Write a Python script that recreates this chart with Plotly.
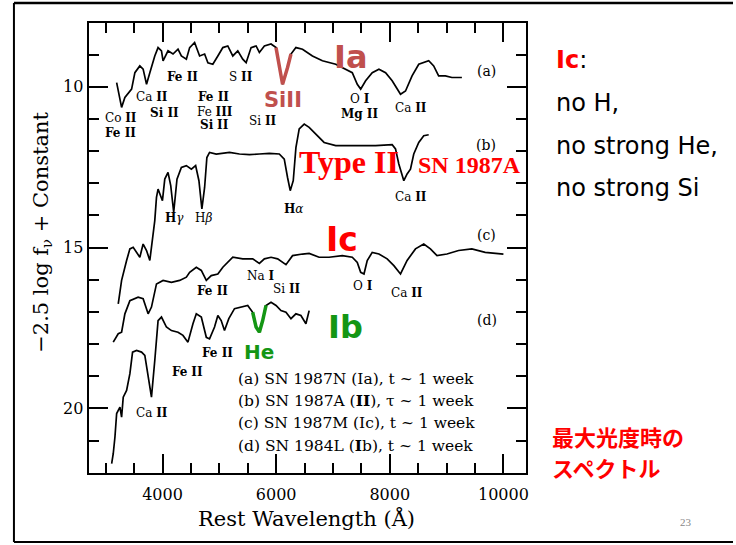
import plotly.graph_objects as go

# ---- spectra (rest wavelength in Angstrom, -2.5 log f_nu + const) ----
wl_a = [3193,3280,3338,3456,3514,3601,3659,3719,3777,3864,3922,3982,4010,4097,4185,4273,4332,4420,4478,4565,
        4653,4741,4799,4886,4974,5062,5149,5237,5325,5412,5472,5559,5647,5705,5793,5910,5998,6055,6113,6201,
        6261,6348,6464,6639,6814,7049,7225,7340,7428,7488,7575,7691,7809,7926,8042,8189,8277,8392,8510,8685,
        8773,8860,8978,9093,9269]
mag_a = [9.87,10.64,10.33,10.07,9.56,9.35,9.45,9.92,9.56,9.04,8.78,8.88,9.19,8.88,8.98,8.83,9.04,9.14,8.78,8.62,
         9.04,8.98,9.25,9.30,9.04,8.78,8.73,9.04,8.88,9.14,9.25,8.78,8.73,8.93,8.73,8.67,8.78,9.40,9.92,9.40,
         8.98,8.78,8.83,9.04,9.19,9.30,9.45,9.56,9.92,10.07,9.81,9.56,9.45,9.56,9.81,10.23,10.13,9.66,9.30,9.19,
         9.35,9.66,9.66,9.71,9.71]

wl_b = [3221,3280,3368,3426,3484,3543,3601,3659,3719,3777,3806,3864,3894,3922,3964,3999,4040,4097,4145,4197,
        4255,4332,4420,4508,4583,4641,4693,4741,4781,4828,4946,5062,5179,5354,5530,5705,5880,6055,6143,6201,
        6248,6301,6348,6406,6494,6581,6699,6844,7049,7400,7751,8042,8101,8159,8247,8305,8364,8422,8510,8598,8685]
mag_b = [16.75,16.02,15.40,15.04,14.99,15.15,15.30,14.89,15.09,15.40,14.99,14.16,13.44,13.18,13.38,13.54,12.87,12.66,13.07,13.90,
         12.87,12.51,12.45,12.56,12.45,12.92,13.80,13.13,12.20,12.04,12.09,12.07,12.04,12.09,12.11,12.09,12.07,12.09,12.25,12.82,
         13.23,12.92,11.89,11.31,11.16,11.26,11.47,11.73,11.83,11.83,11.83,11.80,11.93,12.40,12.92,12.71,12.56,12.09,11.73,11.52,11.49]

wl_c = [3133,3221,3280,3338,3426,3571,3659,3747,3806,3894,4010,4157,4302,4420,4478,4595,4683,4771,4858,4974,
        5062,5149,5237,5412,5587,5705,5793,5910,6026,6173,6289,6464,6581,6756,6932,7165,7340,7428,7488,7546,
        7603,7691,7809,7954,8072,8189,8305,8452,8598,8715,8831,9006,9211,9444,9679,10000]
mag_c = [17.94,17.68,17.63,17.06,16.65,16.54,16.59,17.06,16.85,16.13,16.02,16.08,16.02,15.92,15.77,15.61,15.71,16.02,15.87,15.82,
         15.61,15.46,15.30,15.35,15.35,15.49,15.35,15.30,15.35,15.53,15.25,15.20,15.18,15.30,15.30,15.25,15.30,15.46,15.77,15.82,
         15.40,15.15,15.20,15.35,15.56,15.82,15.40,15.04,14.89,15.04,15.25,15.20,15.09,15.04,15.15,15.20]

wl_d = [3105,3133,3163,3193,3251,3280,3309,3368,3426,3473,3543,3631,3689,3729,3806,3864,3922,3982,4069,4157,
        4273,4360,4448,4536,4595,4683,4771,4828,4916,4974,5033,5091,5167,5267,5384,5500,5587,5647,5705,5763,
        5822,5910,5998,6085,6173,6261,6348,6436,6524,6581]
mag_d = [21.72,21.41,20.89,20.16,19.96,20.27,19.65,19.44,18.92,18.25,18.20,18.25,18.35,18.82,19.65,18.51,17.27,17.16,17.47,17.58,
         17.63,17.73,17.94,17.37,17.06,17.16,17.79,17.84,17.47,17.11,17.27,17.58,17.21,16.90,16.85,16.80,17.01,17.47,17.63,17.27,
         16.80,16.70,16.80,16.96,17.01,17.21,17.06,17.11,17.37,16.96]

# highlighted absorption features (wavelength windows)
siII_window = [5990, 6270]
he_window = [5560, 5840]

# line identifications: (text, wavelength, magnitude)
ion_labels = [
    ("Co <b>II</b>", 3268, 10.97), ("<b>Fe II</b>", 3268, 11.44), ("Ca <b>II</b>", 3812, 10.32),
    ("<b>Si II</b>", 4040, 10.81), ("<b>Fe II</b>", 4355, 9.69), ("<b>Fe II</b>", 4898, 10.32),
    ("Fe <b>III</b>", 4916, 10.78), ("<b>Si</b> <b>II</b>", 4916, 11.19), ("S <b>II</b>", 5389, 9.69),
    ("Si <b>II</b>", 5757, 11.07), ("O <b>I</b>", 7475, 10.38), ("<b>Mg II</b>", 7475, 10.85),
    ("Ca <b>II</b>", 8371, 10.66),
    ("<b>H</b><i>γ</i>", 4215, 14.08), ("H<i>β</i>", 4723, 14.08), ("<b>H</b><i>α</i>", 6299, 13.80),
    ("Ca <b>II</b>", 8371, 13.43),
    ("Na <b>I</b>", 5722, 15.88), ("<b>Fe II</b>", 4881, 16.35), ("Si <b>II</b>", 6178, 16.29),
    ("O <b>I</b>", 7528, 16.19), ("Ca <b>II</b>", 8300, 16.41),
    ("<b>Fe II</b>", 4969, 18.28), ("<b>Fe</b> <b>II</b>", 4443, 18.87), ("Ca <b>II</b>", 3812, 20.14),
]
panel_labels = [("(a)", 9703, 9.51), ("(b)", 9686, 11.81), ("(c)", 9703, 14.61), ("(d)", 9703, 17.25)]
legend_lines = [
    "(a) SN 1987N (Ia), t ~ 1 week",
    "(b) SN 1987A (<b>II</b>), τ ~ 1 week",
    "(c) SN 1987M (Ic), t ~ 1 week",
    "(d) SN 1984L (<b>I</b>b), t ~ 1 week",
]
legend_mags = [19.09, 19.77, 20.45, 21.14]

W, H = 736, 545
SERIF = "DejaVu Serif"
SIRED = "#c0504d"
GREEN = "#149614"

fig = go.Figure()
for wl, mg in [(wl_a, mag_a), (wl_b, mag_b), (wl_c, mag_c), (wl_d, mag_d)]:
    fig.add_trace(go.Scatter(x=wl, y=mg, mode="lines", line=dict(color="black", width=1.7),
                             hoverinfo="skip", showlegend=False))

def window(wl, mg, lo, hi):
    pts = [(w, m) for w, m in zip(wl, mg) if lo <= w <= hi]
    return [p[0] for p in pts], [p[1] for p in pts]

sx, sy = window(wl_a, mag_a, *siII_window)
fig.add_trace(go.Scatter(x=sx, y=sy, mode="lines", line=dict(color=SIRED, width=3.5),
                         hoverinfo="skip", showlegend=False))
hx, hy = window(wl_d, mag_d, *he_window)
fig.add_trace(go.Scatter(x=hx, y=hy, mode="lines", line=dict(color=GREEN, width=3.5),
                         hoverinfo="skip", showlegend=False))

def A(text, x, y, size, color="black", family=SERIF, ref="data", xanchor="center", **kw):
    d = dict(text=text, x=x, y=y, showarrow=False, xanchor=xanchor, yanchor="middle",
             font=dict(family=family, size=size, color=color))
    if ref == "data":
        d.update(xref="x", yref="y")
    else:
        d.update(xref="paper", yref="paper")
    d.update(kw)
    return d

ann = []
for t, x, y in ion_labels:
    ann.append(A(t, x, y, 12))
for t, x, y in panel_labels:
    ann.append(A(t, x, y, 14))
for t, y in zip(legend_lines, legend_mags):
    ann.append(A(t, 5300, y, 15.5, xanchor="left"))

# coloured type labels
ann += [
    A("<b>Ia</b>", 7318, 9.06, 32, SIRED, "DejaVu Sans"),
    A("<b>SiII</b>", 6126, 10.40, 21, SIRED, "DejaVu Sans"),
    A("<b>Type II</b>", 7283, 12.34, 32, "#ff0000", "Liberation Serif"),
    A("<b>SN 1987A</b>", 9404, 12.43, 24, "#ff0000", "Liberation Serif"),
    A("<b>Ic</b>", 7160, 14.76, 33, "#ff0000", "DejaVu Sans"),
    A("<b>Ib</b>", 7213, 17.47, 32, GREEN, "DejaVu Sans"),
    A("<b>He</b>", 5705, 18.25, 20, GREEN, "DejaVu Sans"),
]

# axis titles and slide text (paper coordinates)
def px(x): return x / W
def py(y): return 1 - y / H

ann += [
    A("−2.5 log f<sub>ν</sub> + Constant", px(42), py(232), 21, ref="paper", textangle=-90),
    A("Rest Wavelength (Å)", px(308), py(518), 21, ref="paper"),
    A("<span style='color:#ff0000'><b>Ic</b></span>:", px(556), py(60), 24, family="DejaVu Sans",
      ref="paper", xanchor="left"),
    A("no H,", px(556), py(103), 24, family="DejaVu Sans", ref="paper", xanchor="left"),
    A("no strong He,", px(556), py(146), 24, family="DejaVu Sans", ref="paper", xanchor="left"),
    A("no strong Si", px(556), py(188), 24, family="DejaVu Sans", ref="paper", xanchor="left"),
    A("<b>最大光度時の</b>", px(553), py(436), 22, "#ff0000", "Noto Sans CJK JP",
      ref="paper", xanchor="left", borderpad=0),
    A("<b>スペクトル</b>", px(553), py(467), 22, "#ff0000", "Noto Sans CJK JP",
      ref="paper", xanchor="left", borderpad=0),
    A("23", px(689), py(522), 11, "#888888", "Liberation Serif", ref="paper"),
]

shapes = [
    dict(type="line", xref="paper", yref="paper", x0=px(14), x1=1, y0=py(3), y1=py(3),
         line=dict(color="black", width=2.5)),
    dict(type="line", xref="paper", yref="paper", x0=px(14), x1=px(14), y0=py(3), y1=py(542),
         line=dict(color="black", width=2)),
    dict(type="line", xref="paper", yref="paper", x0=px(14), x1=1, y0=py(542), y1=py(542),
         line=dict(color="black", width=2)),
]

axis_common = dict(showline=True, linecolor="black", linewidth=2, mirror="allticks",
                   ticks="inside", ticklen=19, tickwidth=1.5, tickcolor="black",
                   showgrid=False, zeroline=False, tickformat="d",
                   tickfont=dict(family=SERIF, size=16, color="black"))

fig.update_layout(
    width=W, height=H, autosize=False,
    margin=dict(l=0, r=0, t=0, b=0),
    paper_bgcolor="white", plot_bgcolor="white",
    xaxis=dict(domain=[px(89), px(528.3)], range=[2700, 10400], tick0=0, dtick=2000,
               ticklabelstandoff=6,
               minor=dict(tick0=0, dtick=500, ticks="inside", ticklen=10, tickwidth=1.5,
                          tickcolor="black", showgrid=False),
               **axis_common),
    yaxis=dict(domain=[py(472.7), py(22.5)], range=[22, 8], tick0=0, dtick=5,
               minor=dict(tick0=0, dtick=1, ticks="inside", ticklen=10, tickwidth=1.5,
                          tickcolor="black", showgrid=False),
               **axis_common),
    annotations=ann, shapes=shapes, showlegend=False,
)

fig.write_html("out.html")
